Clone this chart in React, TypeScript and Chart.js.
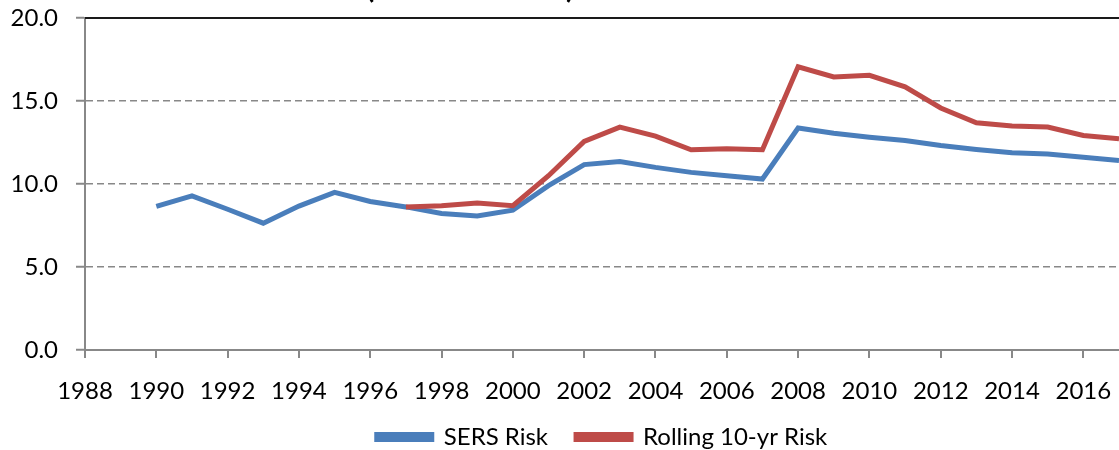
import React, { useEffect, useRef } from "react";
import { Chart, registerables } from "chart.js";

Chart.register(...registerables);

const years = [
  1990, 1991, 1992, 1993, 1994, 1995, 1996, 1997, 1998, 1999, 2000, 2001, 2002, 2003,
  2004, 2005, 2006, 2007, 2008, 2009, 2010, 2011, 2012, 2013, 2014, 2015, 2016, 2017,
];

const sersRisk = [
  8.65, 9.29, 8.48, 7.64, 8.67, 9.5, 8.95, 8.62, 8.22, 8.08, 8.42, 9.9, 11.17, 11.35,
  11.0, 10.7, 10.5, 10.3, 13.37, 13.06, 12.82, 12.62, 12.32, 12.08, 11.88, 11.81, 11.61, 11.41,
];

const rollingRisk = [
  null, null, null, null, null, null, null, 8.62, 8.69, 8.85, 8.69, 10.5, 12.56, 13.43,
  12.88, 12.06, 12.12, 12.06, 17.06, 16.45, 16.55, 15.85, 14.58, 13.69, 13.49, 13.43, 12.92, 12.72,
];

const seriesNames = ["SERS Risk", "Rolling 10-yr Risk"];
const titleParens = ["(", ")"];

const FONT = "Lato";

export default function App() {
  const ref = useRef<HTMLCanvasElement | null>(null);

  useEffect(() => {
    if (!ref.current) return;
    const topLine = {
      id: "topLine",
      afterDraw(chart: any) {
        const { ctx, chartArea } = chart;
        ctx.save();
        ctx.strokeStyle = "#1a1a1a";
        ctx.lineWidth = 2;
        ctx.beginPath();
        ctx.moveTo(chartArea.left, chartArea.top);
        ctx.lineTo(chartArea.right, chartArea.top);
        ctx.stroke();
        ctx.fillStyle = "#000";
        ctx.font = `bold 30px ${FONT}`;
        ctx.textBaseline = "alphabetic";
        ctx.textAlign = "left";
        ctx.fillText(titleParens[0], 366, -2);
        ctx.fillText(titleParens[1], 566, -2);
        ctx.restore();
      },
    };
    const chart = new Chart(ref.current, {
      type: "line",
      data: {
        datasets: [
          {
            label: seriesNames[0],
            data: years.map((x, i) => ({ x, y: sersRisk[i] })),
            borderColor: "#4A7EBB",
            backgroundColor: "#4A7EBB",
            borderWidth: 5,
            pointRadius: 0,
            order: 1,
            tension: 0,
          },
          {
            label: seriesNames[1],
            data: years.map((x, i) => ({ x, y: rollingRisk[i] })),
            borderColor: "#BE4B48",
            backgroundColor: "#BE4B48",
            borderWidth: 5,
            pointRadius: 0,
            order: 0,
            tension: 0,
          },
        ],
      },
      plugins: [topLine],
      options: {
        responsive: false,
        animation: false,
        layout: { padding: { top: 18, right: 0, left: 0, bottom: 0 } },
        plugins: {
          tooltip: { enabled: false },
          title: { display: false },
          legend: {
            position: "bottom",
            fullSize: false,
            labels: {
              sort: (a: any, b: any) => a.datasetIndex - b.datasetIndex,
              font: { family: FONT, size: 24 },
              color: "#000",
              boxWidth: 55,
              boxHeight: 5,
              padding: 28,
            },
          },
        },
        scales: {
          x: {
            type: "linear",
            min: 1988,
            max: 2017,
            afterFit: (s: any) => {
              s.height = 47;
              s.paddingLeft = 0;
              s.paddingRight = 0;
              s._computeLabelArea = () => undefined;
            },
            ticks: {
              stepSize: 2,
              includeBounds: false,
              autoSkip: false,
              maxRotation: 0,
              color: "#000",
              font: { family: FONT, size: 24 },
              padding: 19,
              callback: (v: any) => String(v),
            },
            grid: {
              drawOnChartArea: false,
              drawTicks: true,
              tickLength: 8,
              color: "#888",
              lineWidth: 2,
            },
            border: { color: "#888", width: 2 },
          },
          y: {
            min: 0,
            max: 20,
            afterFit: (s: any) => {
              s.width = 85;
              s.paddingTop = 0;
              s.paddingBottom = 0;
            },
            ticks: {
              stepSize: 5,
              color: "#000",
              font: { family: FONT, size: 24 },
              padding: 18,
              callback: (v: any) => Number(v).toFixed(1),
            },
            grid: {
              color: (c: any) =>
                c.tick && (c.tick.value === 0 || c.tick.value === 20) ? "rgba(0,0,0,0)" : "#888",
              lineWidth: 1.5,
              tickLength: 9,
              tickColor: "#888",
              tickWidth: 2,
              tickBorderDash: [],
            },
            border: { color: "#888", width: 2, dash: [7, 4] },
          },
        },
      },
    } as any);
    return () => chart.destroy();
  }, []);

  return (
    <div style={{ position: "fixed", left: 0, top: 0, width: 1119, height: 450, overflow: "hidden", background: "#fff" }}>
      <canvas ref={ref} width={1119} height={459} style={{ display: "block" }} />
    </div>
  );
}
